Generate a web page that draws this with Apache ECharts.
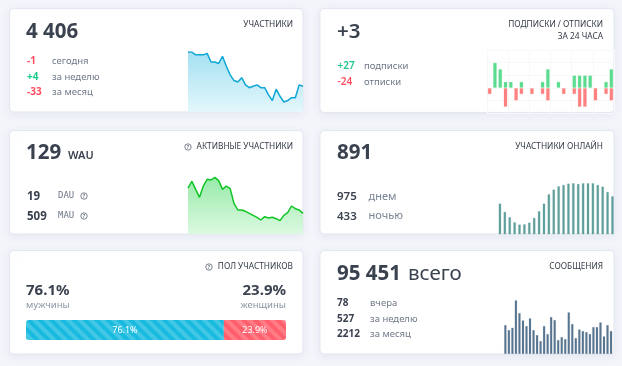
<!DOCTYPE html>
<html>
<head>
<meta charset="utf-8">
<style>
  html, body { margin: 0; padding: 0; background: #f3f5fa; }
  #chart { width: 622px; height: 366px; }
</style>
</head>
<body>
<div id="chart"></div>
<script src="https://cdn.jsdelivr.net/npm/echarts@6/dist/echarts.min.js"></script>
<script>
// участники за месяц
const membersDays = [1,2,3,4,5,6,7,8,9,10,11,12,13,14,15,16,17,18,19,20,21,22,23,24,25,26,27,28,29,30,31]
const members = [4440,4440,4438,4438,4438,4439,4433,4433,4432,4437,4430,4424,4420,4419,4422,4417,4415,4416,4417,4415,4415,4410,4406,4414,4409,4405,4406,4408,4408,4417,4416]

// подписки / отписки за 24 часа, null - нет столбика
const hours = [0,1,2,3,4,5,6,7,8,9,10,11,12,13,14,15,16,17,18,19,20,21,22,23]
const subs = [null,4,3,1,1,null,1,null,null,null,1,3,null,1,null,null,2,2,2,2,null,null,1,3]
const unsubs = [-1,null,null,-3,null,-2,-1,null,-1,null,-1,-2,null,null,-1,null,-1,-3,-3,null,-2,null,-1,-2]

// активные участники
const activeDays = [1,2,3,4,5,6,7,8,9,10,11,12,13,14,15,16,17,18,19,20,21,22,23,24,25,26,27,28,29,30,31]
const active = [167,177,165,153,170,180,179,183,178,165,170,166,144,134,134,132,129,126,123,119,124,122,123,121,118,126,130,140,136,134,129]

// онлайн по часам
const online = [708,599,529,463,433,437,459,520,608,708,830,892,935,953,970,975,966,975,975,975,953,931,861,804]

// пол
const genderMale = [76.1]
const genderFemale = [23.9]

// сообщения за месяц
const messagesDays = [1,2,3,4,5,6,7,8,9,10,11,12,13,14,15,16,17,18,19,20,21,22,23,24,25,26,27,28,29,30,31]
const messages = [87,72,79,161,123,101,84,107,72,57,39,84,60,111,102,42,51,45,125,90,48,74,69,66,60,81,81,95,53,87,69]

const font = '"Noto Sans", sans-serif'
const dark = '#3a414f'
const grey = '#6f7889'
const red = '#ff4d5f'
const green = '#1cc98a'

function txt(text, x, y, size, color, weight, align, family) {
  return {
    type: 'text',
    x: x,
    y: y,
    z: 10,
    style: {
      text: text,
      fill: color,
      textAlign: align || 'left',
      textVerticalAlign: 'middle',
      font: (weight || 400) + ' ' + size + 'px ' + (family || font)
    }
  }
}

function card(x, y, w, h) {
  return {
    type: 'rect',
    z: -1,
    shape: { x: x, y: y, width: w, height: h, r: 4 },
    style: {
      fill: '#fff',
      stroke: '#e4e7f0',
      lineWidth: 1,
      shadowBlur: 8,
      shadowColor: 'rgba(120,130,170,0.10)',
      shadowOffsetY: 2
    }
  }
}

function help(x, y) {
  return [
    { type: 'circle', z: 10, shape: { cx: x, cy: y, r: 3.2 }, style: { fill: 'none', stroke: '#5c6472', lineWidth: 0.8 } },
    txt('?', x, y + 0.2, 5, '#5c6472', 600, 'center')
  ]
}

const elements = [
  card(9.5, 8.5, 293.5, 103.5),
  card(320, 8.5, 294, 104),
  card(9.5, 130.5, 293.5, 103.5),
  card(320, 130.5, 294, 103.5),
  card(9.5, 250.5, 293.5, 103.5),
  card(320, 250.5, 294, 103.5),

  // участники
  txt('4 406', 26, 32, 20.5, dark, 700),
  txt('УЧАСТНИКИ', 293, 25, 8.3, '#333a46', 400, 'right'),
  txt('-1', 27, 61, 10, red, 700),
  txt('сегодня', 52, 61, 9.5, grey),
  txt('+4', 27, 77, 10, green, 700),
  txt('за неделю', 52, 77, 9.5, grey),
  txt('-33', 27, 92.5, 10, red, 700),
  txt('за месяц', 52, 92.5, 9.5, grey),

  // подписки
  txt('+3', 337, 32, 20.5, dark, 600),
  txt('ПОДПИСКИ / ОТПИСКИ', 603, 25, 8.3, '#333a46', 400, 'right'),
  txt('ЗА 24 ЧАСА', 603, 37, 8.3, '#333a46', 400, 'right'),
  txt('+27', 337.5, 66, 10, green, 600),
  txt('подписки', 364, 66, 9.5, grey),
  txt('-24', 337.5, 82, 10, red, 600),
  txt('отписки', 364, 82, 9.5, grey),

  // активные
  txt('129', 26, 153.5, 20.5, dark, 700),
  txt('WAU', 68, 156, 11, dark, 600),
  txt('АКТИВНЫЕ УЧАСТНИКИ', 293, 147, 8.3, '#333a46', 400, 'right'),
  ...help(188, 147),
  txt('19', 27, 197, 11.5, dark, 700),
  txt('DAU', 58, 196, 9, grey, 400, 'left', '"DejaVu Sans Mono", monospace'),
  ...help(84, 196),
  txt('509', 27, 217, 11.5, dark, 700),
  txt('MAU', 58, 216, 9, grey, 400, 'left', '"DejaVu Sans Mono", monospace'),
  ...help(84, 216),

  // онлайн
  txt('891', 337, 153.5, 20.5, dark, 700),
  txt('УЧАСТНИКИ ОНЛАЙН', 603, 147, 8.3, '#333a46', 400, 'right'),
  txt('975', 337, 197, 11.5, dark, 600),
  txt('днем', 368.5, 197, 11, '#7b8596'),
  txt('433', 337, 216.5, 11.5, dark, 600),
  txt('ночью', 368.5, 216, 11, '#7b8596'),

  // пол
  txt('ПОЛ УЧАСТНИКОВ', 293, 267, 8.3, '#333a46', 400, 'right'),
  ...help(209, 267),
  txt('76.1%', 26, 291, 15, dark, 700),
  txt('мужчины', 26, 305, 9.5, '#8b95a5'),
  txt('23.9%', 286, 291, 15, dark, 700, 'right'),
  txt('женщины', 286, 305, 9.5, '#8b95a5', 400, 'right'),

  // сообщения
  txt('95 451', 337, 274.5, 20.5, dark, 700),
  txt('всего', 408, 274.5, 20.5, dark, 400),
  txt('СООБЩЕНИЯ', 603, 267, 8.3, '#333a46', 400, 'right'),
  txt('78', 337, 303, 10, dark, 700),
  txt('вчера', 370, 303, 9.5, grey),
  txt('527', 337, 319, 10, dark, 700),
  txt('за неделю', 370, 319, 9.5, grey),
  txt('2212', 337, 334.5, 10, dark, 700),
  txt('за месяц', 370, 334.5, 9.5, grey)
]

function hiddenCat(data, gridIndex, boundaryGap) {
  return { type: 'category', gridIndex: gridIndex, data: data, show: false, boundaryGap: boundaryGap }
}

function hiddenVal(min, max, gridIndex) {
  return { type: 'value', gridIndex: gridIndex, min: min, max: max, show: false }
}

function areaGradient(top, bottom) {
  return new echarts.graphic.LinearGradient(0, 0, 0, 1, [
    { offset: 0, color: top },
    { offset: 1, color: bottom }
  ])
}

const stripes = {
  symbol: 'rect',
  dashArrayX: [1, 0],
  dashArrayY: [4, 4],
  rotation: Math.PI / 4,
  color: 'rgba(255,255,255,0.18)'
}

const option = {
  animation: false,
  backgroundColor: '#f3f5fa',
  textStyle: { fontFamily: font },
  graphic: { elements: elements },
  grid: [
    { left: 188, top: 52, width: 115, height: 60 },
    { left: 487, top: 50, width: 127, height: 63.3 },
    { left: 188, top: 170, width: 115, height: 64 },
    { left: 497.5, top: 183, width: 117.4, height: 51 },
    { left: 26, top: 320, width: 260, height: 20 },
    { left: 503.6, top: 300.3, width: 109.2, height: 53.7 }
  ],
  xAxis: [
    hiddenCat(membersDays, 0, false),
    {
      type: 'category',
      gridIndex: 1,
      data: hours,
      axisLine: { show: false },
      axisTick: { show: false },
      axisLabel: { show: false },
      splitLine: { show: true, lineStyle: { color: '#f7f8f9', width: 1 } }
    },
    hiddenCat(activeDays, 2, false),
    hiddenCat(hours, 3, true),
    { type: 'value', gridIndex: 4, min: 0, max: 100, show: false },
    hiddenCat(messagesDays, 5, true)
  ],
  yAxis: [
    hiddenVal(4398, 4440, 0),
    {
      type: 'value',
      gridIndex: 1,
      min: -4,
      max: 6,
      interval: 2,
      axisLine: { show: false },
      axisTick: { show: false },
      axisLabel: { show: false },
      splitLine: { show: true, lineStyle: { color: '#f7f8f9', width: 1 } }
    },
    hiddenVal(98, 194, 2),
    hiddenVal(306, 975, 3),
    { type: 'category', gridIndex: 4, data: ['пол'], show: false },
    hiddenVal(0, 161, 5)
  ],
  series: [
    {
      name: 'участники',
      type: 'line',
      xAxisIndex: 0,
      yAxisIndex: 0,
      data: members,
      symbol: 'none',
      lineStyle: { color: '#0ea7d6', width: 1.5 },
      areaStyle: { opacity: 1, color: areaGradient('#a4e1f2', '#e4f7fc') }
    },
    {
      name: 'подписки',
      type: 'bar',
      xAxisIndex: 1,
      yAxisIndex: 1,
      stack: 'subs',
      data: subs,
      barWidth: 4,
      itemStyle: { color: '#5cdc8f', borderColor: 'rgba(92,220,143,0.25)', borderWidth: 1 }
    },
    {
      name: 'отписки',
      type: 'bar',
      xAxisIndex: 1,
      yAxisIndex: 1,
      stack: 'subs',
      data: unsubs,
      barWidth: 4,
      itemStyle: { color: '#ff8080', borderColor: 'rgba(255,128,128,0.25)', borderWidth: 1 }
    },
    {
      name: 'активные',
      type: 'line',
      xAxisIndex: 2,
      yAxisIndex: 2,
      data: active,
      symbol: 'none',
      lineStyle: { color: '#0fc423', width: 1.5 },
      areaStyle: { opacity: 1, color: areaGradient('#97eaa9', '#dcf9e1') }
    },
    {
      name: 'онлайн',
      type: 'bar',
      xAxisIndex: 3,
      yAxisIndex: 3,
      data: online,
      barWidth: 3,
      itemStyle: { color: '#5f9f9b', borderColor: 'rgba(95,159,155,0.25)', borderWidth: 1 }
    },
    {
      name: 'мужчины',
      type: 'bar',
      xAxisIndex: 4,
      yAxisIndex: 4,
      stack: 'gender',
      data: genderMale,
      barWidth: 20,
      itemStyle: { color: '#18bbdf', borderRadius: [3, 0, 0, 3], decal: stripes },
      label: { show: true, position: 'inside', formatter: '{c}%', color: '#fff', fontSize: 9, fontFamily: font }
    },
    {
      name: 'женщины',
      type: 'bar',
      xAxisIndex: 4,
      yAxisIndex: 4,
      stack: 'gender',
      data: genderFemale,
      barWidth: 20,
      itemStyle: { color: '#ff5f6d', borderRadius: [0, 3, 3, 0], decal: stripes },
      label: { show: true, position: 'inside', formatter: '{c}%', color: '#fff', fontSize: 9, fontFamily: font }
    },
    {
      name: 'сообщения',
      type: 'bar',
      xAxisIndex: 5,
      yAxisIndex: 5,
      data: messages,
      barWidth: 2.5,
      itemStyle: { color: '#587590', borderColor: 'rgba(88,117,144,0.25)', borderWidth: 0.5 }
    }
  ]
}

const chart = echarts.init(document.getElementById('chart'))
chart.setOption(option)
</script>
</body>
</html>
